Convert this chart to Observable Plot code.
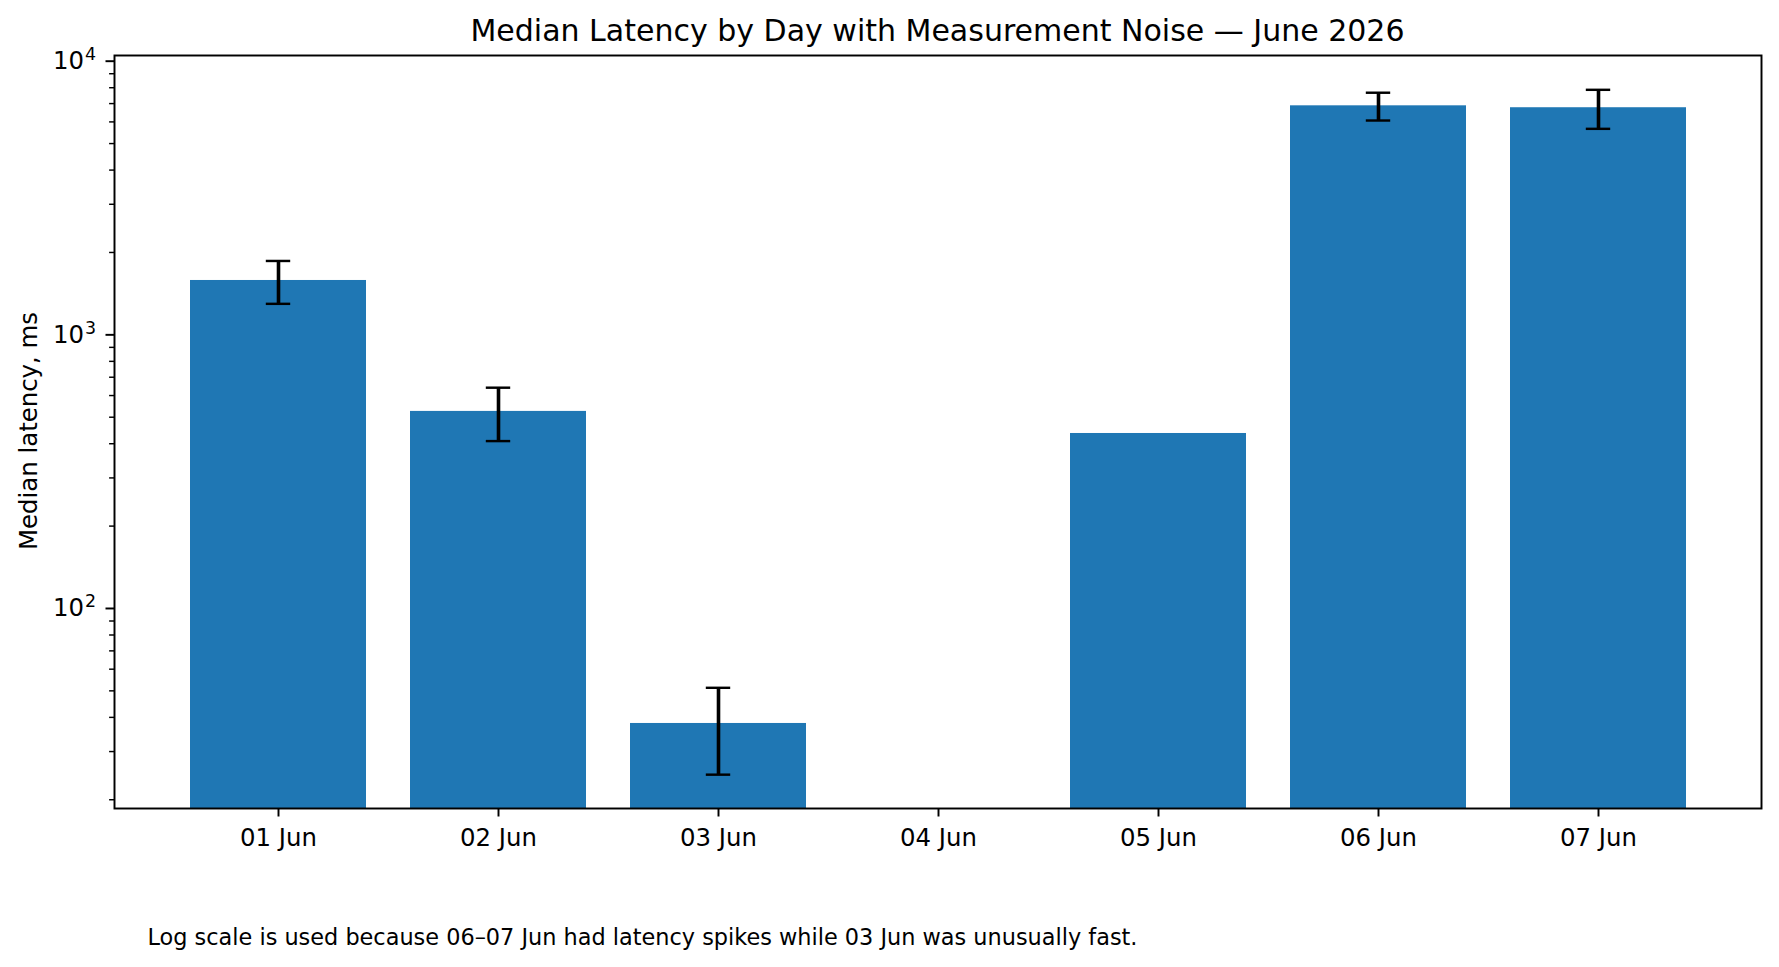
<!DOCTYPE html>
<html><head><meta charset="utf-8">
<script src="https://cdn.jsdelivr.net/npm/d3@7"></script>
<script src="https://cdn.jsdelivr.net/npm/@observablehq/plot@0.6"></script>
<style>
body{margin:0;background:#fff;font-family:"DejaVu Sans",sans-serif;}
#fig{position:relative;width:1779px;height:967px;overflow:hidden;}
#fig svg{position:absolute;left:0;top:0;}
.t{position:absolute;white-space:nowrap;line-height:1;color:#000;font-family:"DejaVu Sans",sans-serif;}
</style></head><body>
<div id="fig"></div>
<script>
// Data
const days = ["01 Jun", "02 Jun", "03 Jun", "04 Jun", "05 Jun", "06 Jun", "07 Jun"];
const medianLatency = [1580, 525, 38, null, 436, 6870, 6760];
const noise = [282, 116, 13.3, null, null, 800, 1100];
const yMajorTicks = [100, 1000, 10000];
const yDomain = [18.58, 10491];

const titleText = "Median Latency by Day with Measurement Noise — June 2026";
const yLabelText = "Median latency, ms";
const captionText = "Log scale is used because 06–07 Jun had latency spikes while 03 Jun was unusually fast.";

const rows = days.map((d, i) => ({day: d, value: medianLatency[i], err: noise[i]}));
const errRows = rows.filter(r => r.value != null && r.err != null)
  .map(r => ({day: r.day, lo: r.value - r.err, hi: r.value + r.err}));

const fmtPow = d => "10^" + Math.round(Math.log10(d));
const yMinorTicks = d3.scaleLog().domain(yDomain).ticks()
  .filter(v => Math.abs(Math.log10(v) - Math.round(Math.log10(v))) > 1e-9);

const font = "DejaVu Sans";
const chart = Plot.plot({
  width: 1779,
  height: 967,
  marginLeft: 114,
  marginRight: 18,
  marginTop: 55,
  marginBottom: 159,
  style: {fontFamily: font, background: "transparent", color: "#000"},
  x: {type: "band", domain: days, paddingInner: 0.2, paddingOuter: 0.34, label: null},
  y: {type: "log", domain: yDomain, label: null},
  marks: [
    Plot.barY(rows, {x: "day", y1: yDomain[0], y2: "value", fill: "#1f77b4"}),
    Plot.ruleX(errRows, {x: "day", y1: "lo", y2: "hi", stroke: "#000", strokeWidth: 3.6}),
    Plot.tickY(errRows, {x: "day", y: "lo", stroke: "#000", strokeWidth: 2.44, insetLeft: 75.8, insetRight: 75.8}),
    Plot.tickY(errRows, {x: "day", y: "hi", stroke: "#000", strokeWidth: 2.44, insetLeft: 75.8, insetRight: 75.8}),
    Plot.axisY(yMinorTicks, {tickSize: 4.9, strokeWidth: 1.46, tickFormat: () => "", label: null}),
    Plot.axisY(yMajorTicks, {tickSize: 8.5, strokeWidth: 1.95, tickPadding: 10, tickFormat: fmtPow, fontSize: 24.4, fontFamily: font, label: null, ariaLabel: "y-major"}),
    Plot.axisX({tickSize: 8.5, strokeWidth: 1.95, tickPadding: 12, fontSize: 24.4, fontFamily: font, label: null}),
    Plot.frame({stroke: "#000", strokeWidth: 1.95})
  ]
});

// render exponents as raised, smaller tspans (mathtext-like)
chart.querySelectorAll("text").forEach(t => {
  const s = t.textContent;
  const m = /^10\^(-?\d+)$/.exec(s);
  if (!m) return;
  t.textContent = "";
  const NS = "http://www.w3.org/2000/svg";
  const base = document.createElementNS(NS, "tspan");
  base.textContent = "10";
  const exp = document.createElementNS(NS, "tspan");
  exp.textContent = m[1];
  exp.setAttribute("font-size", "17.4");
  exp.setAttribute("dy", "-9");
  exp.setAttribute("dx", "1");
  t.appendChild(base);
  t.appendChild(exp);
});

const fig = document.getElementById("fig");
fig.appendChild(chart);

function addText(txt, size, style) {
  const el = document.createElement("div");
  el.className = "t";
  el.textContent = txt;
  el.style.fontSize = size + "px";
  Object.assign(el.style, style);
  fig.appendChild(el);
  return el;
}
addText(titleText, 30, {left: "937.5px", top: "16px", transform: "translateX(-50%)"});
addText(yLabelText, 24.4, {left: "28.5px", top: "430.5px", transform: "translate(-50%,-50%) rotate(-90deg)"});
addText(captionText, 22.4, {left: "147.5px", top: "926px"});
</script>
</body></html>
